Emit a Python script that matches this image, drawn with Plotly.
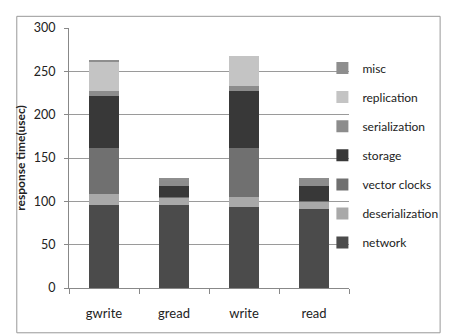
import plotly.graph_objects as go

categories = ["gwrite", "gread", "write", "read"]
network = [96, 96, 93, 91]
deserialization = [12, 8, 12, 8.5]
vector_clocks = [54, 1.5, 56, 1]
storage = [59, 12, 66, 17]
serialization = [6, 6, 6, 7]
replication = [34, 0, 35, 0]
misc = [1, 3, 0, 3]

series = [
    ("network", network, "#4b4b4b"),
    ("deserialization", deserialization, "#a9a9a9"),
    ("vector clocks", vector_clocks, "#707070"),
    ("storage", storage, "#383838"),
    ("serialization", serialization, "#8c8c8c"),
    ("replication", replication, "#c4c4c4"),
    ("misc", misc, "#8e8e8e"),
]

fig = go.Figure()
n = len(series)
for i, (name, vals, col) in enumerate(series):
    fig.add_trace(go.Bar(x=categories, y=vals, name=name, marker_color=col,
                         marker_line_width=0, legendgroup=f"g{i}",
                         legendrank=n - i))

font = "Lato, 'Open Sans', sans-serif"
fig.update_layout(
    barmode="stack",
    bargap=0.58,
    width=447, height=326,
    margin=dict(l=55, r=97, t=13, b=46),
    paper_bgcolor="white", plot_bgcolor="white",
    font=dict(family=font, size=12, color="#222"),
    legend=dict(x=0.905, y=0.902, xanchor="left", yanchor="top",
                traceorder="grouped", tracegroupgap=10.1,
                font=dict(size=12, color="#222"), bgcolor="rgba(0,0,0,0)"),
    yaxis=dict(range=[0, 300], dtick=50, showgrid=True, gridcolor="#9a9a9a",
               gridwidth=1, showline=True, linecolor="#888", zeroline=False,
               ticks="outside", ticklen=4, tickcolor="#888",
               ticklabelstandoff=6,
               title=dict(text="<b>response time(usec)</b>", font=dict(size=12), standoff=5),
               tickfont=dict(size=12.5)),
    xaxis=dict(showline=True, linecolor="#888", ticks="outside", tickcolor="#888",
               ticklen=5, tickson="boundaries", tickfont=dict(size=13),
               ticklabelstandoff=13),
    shapes=[dict(type="rect", xref="paper", yref="paper",
                 x0=-55/295, x1=1 + 96/295, y0=-46/267, y1=1 + 12/267,
                 line=dict(color="#999", width=1))],
)
fig.write_html("out.html")
